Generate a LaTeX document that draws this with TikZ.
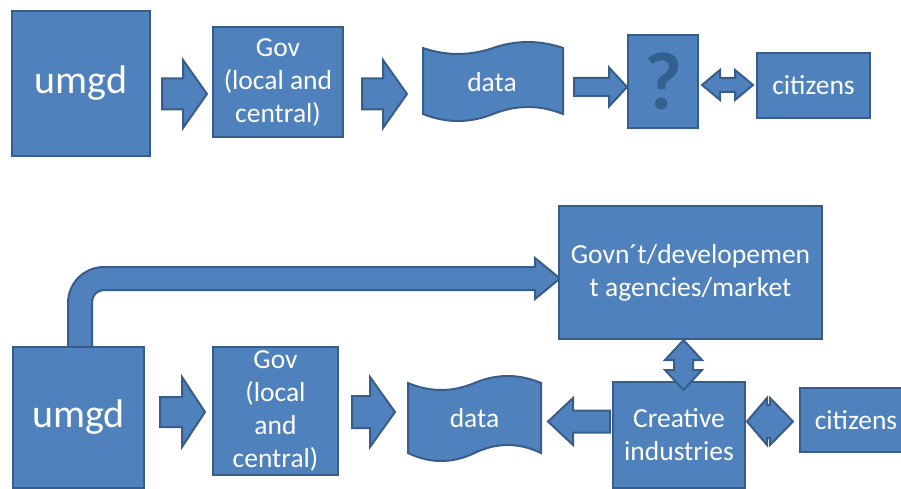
\documentclass[tikz,border=0pt]{standalone}
\usepackage{fontspec}
\setmainfont{Carlito}
\definecolor{boxfill}{HTML}{4F81BD}
\definecolor{boxline}{HTML}{385D8A}
\definecolor{qmark}{HTML}{33608F}
\newcommand{\rblock}[6]{%
  \draw[blk] (#1,#3-#4) -- (#6,#3-#4) -- (#6,#3-#5) -- (#2,#3) -- (#6,#3+#5) -- (#6,#3+#4) -- (#1,#3+#4) -- cycle;}
\newcommand{\tapeshape}[6]{%
  \draw[blk] (#1,#3) .. controls ({#1+(#2-#1)/6},{#3+4*#4/3}) and ({#1+(#2-#1)/3},{#3+4*#4/3}) .. ({(#1+#2)/2},#3)
   .. controls ({#1+2*(#2-#1)/3},{#3-4*#4/3}) and ({#1+5*(#2-#1)/6},{#3-4*#4/3}) .. (#2,#3)
   -- (#2,#5) .. controls ({#1+5*(#2-#1)/6},{#5-4*#6/3}) and ({#1+2*(#2-#1)/3},{#5-4*#6/3}) .. ({(#1+#2)/2},#5)
   .. controls ({#1+(#2-#1)/3},{#5+4*#6/3}) and ({#1+(#2-#1)/6},{#5+4*#6/3}) .. (#1,#5) -- cycle;}
\begin{document}
\begin{tikzpicture}[x=1pt,y=-1pt,
  box/.style={draw=boxline, fill=boxfill, line width=2pt, text=white, align=center, inner sep=0pt},
  blk/.style={draw=boxline, fill=boxfill, line width=2pt, line join=miter},
  mid/.style={font=\fontsize{27.5}{33}\selectfont},
  big/.style={font=\fontsize{40}{46}\selectfont}]
\useasboundingbox (0,0) rectangle (901,489);
% ---------- top row ----------
\node[box,big,minimum width=138pt,minimum height=145pt] (umgdA) at (81,83.5) {umgd};
\rblock{162}{207}{94}{15.5}{34}{183}
\node[box,mid,minimum width=130pt,minimum height=110pt] (govA) at (278,82) {Gov\\(local and\\central)};
\rblock{362}{407}{94}{15.5}{34}{383}
\tapeshape{423}{563}{48}{6}{114}{7}
\node[text=white,mid,inner sep=0pt] (dataA) at (492,82) {data};
\rblock{574}{627}{87}{9}{19.5}{609}
\node[box,text=qmark,font=\fontsize{82}{82}\selectfont\bfseries,minimum width=70pt,minimum height=93pt] (qA) at (663,81.5) {?};
\draw[blk] (702,85) -- (720,70) -- (720,78) -- (735,78) -- (735,70) -- (753,85) -- (735,100) -- (735,92) -- (720,92) -- (720,100) -- cycle;
\node[box,mid,minimum width=113pt,minimum height=65pt] (citA) at (813.5,85.5) {citizens};
% ---------- bottom row ----------
\draw[blk] (68,350) -- (68,303) .. controls (68,283.1) and (84.1,267) .. (104,267) -- (535,267) -- (535,258) -- (560,278.5) -- (535,299) -- (535,290) -- (104,290) .. controls (97.4,290) and (92,295.4) .. (92,302) -- (92,350) -- cycle;
\node[box,big,minimum width=131pt,minimum height=141pt] (umgdB) at (78.5,417.5) {umgd};
\rblock{160}{205}{412}{15}{35}{182}
\node[box,mid,minimum width=125pt,minimum height=128pt] (govB) at (275.5,411) {Gov\\(local\\and\\central)};
\rblock{352}{395}{412}{16}{35}{370}
\tapeshape{408}{541}{383}{7}{453}{8}
\node[text=white,mid,inner sep=0pt] (dataB) at (474.5,418) {data};
\rblock{610}{548}{421.5}{11}{23.5}{573}
\node[box,mid,minimum width=263pt,minimum height=133pt] (gdev) at (690.5,272.5) {Govn´t/developemen\\t agencies/market};
\node[box,mid,minimum width=132pt,minimum height=106pt] (creat) at (679,435) {Creative\\industries};
\draw[blk] (683.5,340) -- (702,360) -- (693,360) -- (693,370) -- (702,370) -- (683.5,390) -- (665,370) -- (674,370) -- (674,360) -- (665,360) -- cycle;
\draw[blk] (747,421.5) -- (767,398) -- (767,405) -- (770,405) -- (770,398) -- (793,421.5) -- (770,445) -- (770,438) -- (767,438) -- (767,445) -- cycle;
\node[box,mid,minimum width=112pt,minimum height=64pt] (citB) at (856,420) {citizens};
\end{tikzpicture}
\end{document}
